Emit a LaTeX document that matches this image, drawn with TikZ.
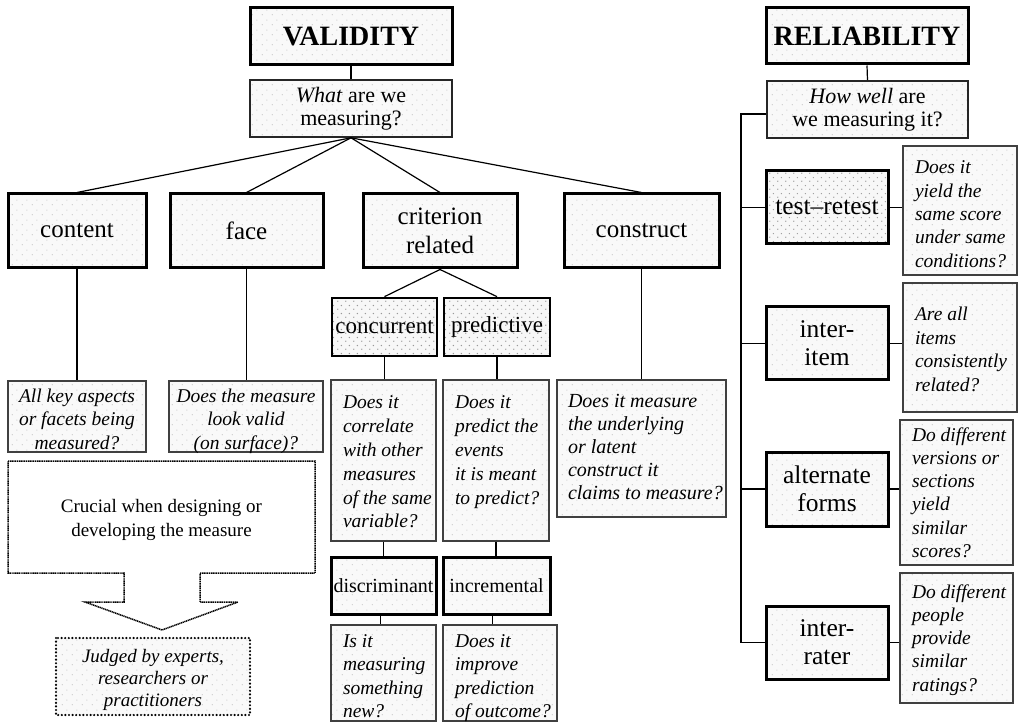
\documentclass[tikz,border=0pt]{standalone}
\usepackage{fontspec}
\setmainfont{Liberation Serif}
\usetikzlibrary{patterns}

% light staggered dots for ordinary boxes
\pgfdeclarepatternformonly{softdots}{\pgfqpoint{0pt}{0pt}}{\pgfqpoint{10pt}{10pt}}{\pgfqpoint{10pt}{10pt}}{%
  \pgfpathcircle{\pgfqpoint{2.5pt}{2.5pt}}{0.65pt}%
  \pgfpathcircle{\pgfqpoint{7.5pt}{7.5pt}}{0.65pt}%
  \pgfusepath{fill}}
% darker, tighter dots for highlighted boxes
\pgfdeclarepatternformonly{tightdots}{\pgfqpoint{0pt}{0pt}}{\pgfqpoint{8pt}{8pt}}{\pgfqpoint{8pt}{8pt}}{%
  \pgfpathcircle{\pgfqpoint{2pt}{2pt}}{0.8pt}%
  \pgfpathcircle{\pgfqpoint{6pt}{6pt}}{0.8pt}%
  \pgfusepath{fill}}

% box text: width, height, alignment code, first baseline, column type, lines
\newcommand\boxtext[6]{\begin{minipage}[c][#2pt][t]{#1pt}#3\begin{tabular}[t]{@{}#5@{}}\rule{0pt}{#4pt}#6\end{tabular}\end{minipage}}

\tikzset{
  sz/.style 2 args={minimum width=#1pt, minimum height=#2pt},
  lightfill/.style={preaction={fill=gray!5}, pattern=softdots, pattern color=gray!45},
  densefill/.style={preaction={fill=gray!6}, pattern=tightdots, pattern color=gray!80},
  headbox/.style={draw, line width=3pt, lightfill, inner sep=0pt,
    font=\bfseries\fontsize{28}{31}\selectfont},
  askbox/.style={draw=black!85, line width=1.6pt, lightfill, inner sep=0pt, align=center,
    font=\fontsize{22}{23}\selectfont},
  typebox/.style={draw, line width=3pt, lightfill, inner sep=0pt, align=center,
    font=\fontsize{25}{29}\selectfont},
  dotbox/.style={typebox, densefill, line width=2.7pt, font=\fontsize{23}{26}\selectfont},
  minorbox/.style={typebox, font=\fontsize{20}{23}\selectfont},
  relbox/.style={typebox, font=\fontsize{25.5}{28}\selectfont},
  notebox/.style={draw=black!75, line width=1.6pt, lightfill, inner sep=0pt,
    font=\itshape\fontsize{19.5}{23.5}\selectfont},
  link/.style={line width=1.2pt},
  calloutline/.style={draw=black, line width=1.5pt, dash pattern=on 1.2pt off 0.6pt},
  judgeline/.style={draw=black, line width=2.4pt, line cap=round, dash pattern=on 0pt off 3.6pt},
}

\begin{document}
\begin{tikzpicture}[x=1pt, y=-1pt]
\fill[white] (0,0) rectangle (1018,727);
\useasboundingbox (0,0) rectangle (1018,727);

% ---------------- validity ----------------
\node[headbox, sz={202}{57}] (val) at (351,36.5) {VALIDITY};
\node[askbox, sz={202}{57}] (what) at (351,108.5) {\textit{What} are we\\measuring?};

\node[typebox, sz={138}{74}] (content) at (77,231) {content};
\node[typebox, sz={153}{74}] (face) at (246.5,231) {face};
\node[typebox, sz={154}{74}] (crit) at (440,231) {criterion\\related};
\node[typebox, sz={155}{74}] (constr) at (641.5,231) {construct};

\node[notebox, sz={138}{71}] (contentq) at (77,416.5)
  {\boxtext{138}{71}{\centering}{21}{c}{All key aspects\\or facets being\\measured?}};
\node[notebox, sz={154}{71}] (faceq) at (246,416.5)
  {\boxtext{154}{71}{\centering}{21}{c}{Does the measure\\look valid\\(on surface)?}};

\node[dotbox, sz={105}{58}] (conc) at (384.5,327) {concurrent};
\node[dotbox, sz={106}{58}] (pred) at (497,327) {predictive};

\node[notebox, sz={105}{161}, font=\itshape\fontsize{19.5}{24}\selectfont] (concq) at (383.5,460.5)
  {\boxtext{105}{161}{\hspace*{12pt}}{28}{l}{Does it\\correlate\\with other\\measures\\of the same\\variable?}};
\node[notebox, sz={106}{161}, font=\itshape\fontsize{19.5}{24}\selectfont] (predq) at (496,460.5)
  {\boxtext{106}{161}{\hspace*{12pt}}{28}{l}{Does it\\predict the\\events\\it is meant\\to predict?}};
\node[notebox, sz={169}{137}, font=\itshape\fontsize{20}{23}\selectfont] (constrq) at (641.5,448.5)
  {\boxtext{169}{137}{\hspace*{11pt}}{27}{l}{Does it measure\\the underlying\\or latent\\construct it\\claims to measure?}};

\node[minorbox, sz={105}{57}] (disc) at (383.5,585.5) {discriminant};
\node[minorbox, sz={107}{57}] (incr) at (496.5,585.5) {incremental};

\node[notebox, sz={105}{96}, font=\itshape\fontsize{19.5}{23.5}\selectfont] (discq) at (383.5,673)
  {\boxtext{105}{96}{\hspace*{12pt}}{22}{l}{Is it\\measuring\\something\\new?}};
\node[notebox, sz={114}{96}, font=\itshape\fontsize{19.5}{23.5}\selectfont] (incrq) at (500,673)
  {\boxtext{114}{96}{\hspace*{12pt}}{22}{l}{Does it\\improve\\prediction\\of outcome?}};

% block arrow pointing down to the judging box
\draw[calloutline] (8,461) -- (315,461) -- (315,573) -- (200,573) -- (200,602) -- (238,602)
  -- (162,630) -- (85,602) -- (124,602) -- (124,573) -- (8,573) -- cycle;
\node[align=center, font=\fontsize{19}{24.5}\selectfont] (crucial) at (161.5,520)
  {Crucial when designing or\\developing the measure};

\path[judgeline, lightfill] (56,638) rectangle (250,715);
\node[inner sep=0pt, sz={194}{77}, font=\itshape\fontsize{19}{22}\selectfont] (judged) at (153,676.5)
  {\boxtext{194}{77}{\centering}{24}{c}{Judged by experts,\\researchers or\\practitioners}};

% validity connectors
\draw[link] (val.south) -- (what.north);
\foreach \t in {content, face, crit, constr}
  \draw[link] (what.south) -- (\t.north);
\draw[link] (content.south) -- (content.south |- contentq.north);
\draw[link] (face.south) -- (face.south |- faceq.north);
\draw[link] (constr.south) -- (constr.south |- constrq.north);
\draw[link] (crit.south) -- (conc.north);
\draw[link] (crit.south) -- (pred.north);
\draw[link] (conc.south) -- (conc.south |- concq.north);
\draw[link] (pred.south) -- (pred.south |- predq.north);
\draw[link] (concq.south) -- (concq.south |- disc.north);
\draw[link] (predq.south) -- (predq.south |- incr.north);
\draw[link] ([xshift=-3pt]disc.south) -- ([xshift=-3pt]disc.south |- discq.north);
\draw[link] ([xshift=-4pt]incr.south) -- ([xshift=-4pt]incr.south |- incrq.north);

% ---------------- reliability ----------------
\node[headbox, sz={202}{56}] (rel) at (867,36) {RELIABILITY};
\node[askbox, sz={201}{57}] (how) at (867.5,109.5) {\textit{How well} are\\we measuring it?};

\node[relbox, densefill, sz={122}{73}] (tr) at (827,207.5) {test–retest};
\node[relbox, sz={122}{73}] (ii) at (827,343.5) {inter-\\item};
\node[relbox, sz={122}{74}] (af) at (827,489) {alternate\\forms};
\node[relbox, sz={122}{73}] (ir) at (827,642.5) {inter-\\rater};

\node[notebox, sz={114}{129}, font=\itshape\fontsize{19.5}{23.3}\selectfont] (trq) at (960,210.5)
  {\boxtext{114}{129}{\hspace*{12pt}}{28}{l}{Does it\\yield the\\same score\\under same\\conditions?}};
\node[notebox, sz={114}{129}, font=\itshape\fontsize{19.5}{23.5}\selectfont] (iiq) at (960,347.5)
  {\boxtext{114}{129}{\hspace*{12pt}}{38}{l}{Are all\\items\\consistently\\related?}};
\node[notebox, sz={113}{145}, font=\itshape\fontsize{19.5}{23.3}\selectfont] (afq) at (956.5,492.5)
  {\boxtext{113}{145}{\hspace*{12pt}}{21}{l}{Do different\\versions or\\sections\\yield\\similar\\scores?}};
\node[notebox, sz={113}{130}, font=\itshape\fontsize{19.5}{23.3}\selectfont] (irq) at (956.5,638)
  {\boxtext{113}{130}{\hspace*{12pt}}{25}{l}{Do different\\people\\provide\\similar\\ratings?}};

% reliability connectors
\coordinate (spine) at (741,114);
\draw[link] (rel.south) -- (how.north);
\draw[link] (spine -| how.west) -- (spine) -- (spine |- ir.west);
\foreach \b in {tr, ii, af, ir}
  \draw[link] (\b.west -| spine) -- (\b.west);
\draw[link] (tr.east) -- (tr.east -| trq.west);
\draw[link] (ii.east) -- (ii.east -| iiq.west);
\draw[link] (af.east) -- (af.east -| afq.west);
\draw[link] (ir.east) -- (ir.east -| irq.west);
\end{tikzpicture}
\end{document}
